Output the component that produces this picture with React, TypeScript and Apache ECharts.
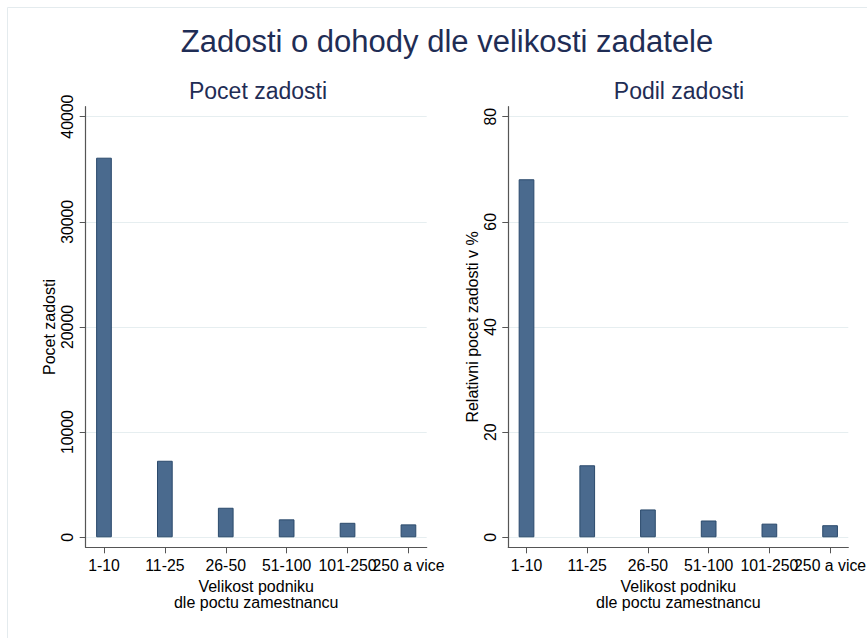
import React, { useEffect, useRef } from 'react';
import * as echarts from 'echarts';

const categories = ['1-10', '11-25', '26-50', '51-100', '101-250', '250 a vice'];
const countValues = [36100, 7280, 2810, 1710, 1380, 1230];
const shareValues = [68.1, 13.7, 5.3, 3.2, 2.6, 2.3];
const countTicks = [0, 10000, 20000, 30000, 40000];
const shareTicks = [0, 20, 40, 60, 80];

const mainTitle = 'Zadosti o dohody dle velikosti zadatele';
const leftTitle = 'Pocet zadosti';
const rightTitle = 'Podil zadosti';
const leftYName = 'Pocet zadosti';
const rightYName = 'Relativni pocet zadosti v %';
const xName = 'Velikost podniku\ndle poctu zamestnancu';

const FONT = '"Liberation Sans", Arial, sans-serif';
const NAVY = '#1f2d55';
const AXIS = '#555555';
const GRIDLINE = '#e6eef0';
const BAR = '#4a6a8e';
const BAR_EDGE = '#2b4a6c';

const catIdx = categories.map((_, i) => i);
const mainIdx = catIdx.slice(0, catIdx.length - 1);
const lastIdx = catIdx.slice(catIdx.length - 1);

const labelStyle = {
  margin: 10,
  color: '#000',
  fontSize: 15.8,
  fontFamily: FONT,
  hideOverlap: false,
  showMinLabel: true,
  showMaxLabel: true,
};

function xAxis(gridIndex: number) {
  return {
    type: 'value',
    gridIndex,
    min: -0.3,
    max: 5.3,
    axisLine: { show: true, onZero: false, lineStyle: { color: AXIS, width: 1.2 } },
    axisTick: { show: true, length: 6, customValues: catIdx, lineStyle: { color: AXIS, width: 1 } },
    axisLabel: {
      ...labelStyle,
      customValues: mainIdx,
      formatter: (v: number) => categories[Math.round(v)] ?? '',
    },
    splitLine: { show: false },
    name: xName,
    nameLocation: 'middle',
    nameGap: 27,
    nameTextStyle: { color: '#000', fontSize: 16, fontFamily: FONT, lineHeight: 16 },
  };
}

// second axis in the same grid, only to carry the last category label (the
// reference lets it overlap its neighbour)
function xAxisLast(gridIndex: number) {
  return {
    type: 'value',
    gridIndex,
    min: -0.3,
    max: 5.3,
    position: 'bottom',
    axisLine: { show: false, onZero: false },
    axisTick: { show: false },
    axisLabel: {
      ...labelStyle,
      customValues: lastIdx,
      formatter: (v: number) => categories[Math.round(v)] ?? '',
    },
    splitLine: { show: false },
  };
}

function yAxis(gridIndex: number, min: number, max: number, ticks: number[], name: string, nameGap: number) {
  return {
    type: 'value',
    gridIndex,
    min,
    max,
    axisLine: { show: true, onZero: false, lineStyle: { color: AXIS, width: 1.2 } },
    axisTick: { show: true, length: 6, customValues: ticks, lineStyle: { color: AXIS, width: 1 } },
    axisLabel: {
      customValues: ticks,
      formatter: (v: number) => String(v),
      rotate: 90,
      margin: 10,
      color: '#000',
      fontSize: 15.8,
      fontFamily: FONT,
      showMinLabel: true,
      showMaxLabel: true,
    },
    splitLine: { show: true, lineStyle: { color: GRIDLINE, width: 1 } },
    name,
    nameLocation: 'middle',
    nameGap,
    nameTextStyle: { color: '#000', fontSize: 16, fontFamily: FONT },
  };
}

const option = {
  animation: false,
  backgroundColor: '#ffffff',
  textStyle: { fontFamily: FONT },
  grid: [
    { left: 85.7, top: 106.7, width: 341, height: 440.6, outerBoundsMode: 'none', containLabel: false },
    { left: 508.3, top: 106.7, width: 340, height: 440.6, outerBoundsMode: 'none', containLabel: false },
  ],
  xAxis: [xAxis(0), xAxis(1), xAxisLast(0), xAxisLast(1)],
  yAxis: [
    yAxis(0, -950, 40950, countTicks, leftYName, 28),
    yAxis(1, -1.9, 81.9, shareTicks, rightYName, 28),
  ],
  series: [
    {
      type: 'bar',
      xAxisIndex: 0,
      yAxisIndex: 0,
      data: countValues.map((v, i) => [i, v]),
      barWidth: 15.7,
      itemStyle: { color: BAR, borderColor: BAR_EDGE, borderWidth: 1 },
    },
    {
      type: 'bar',
      xAxisIndex: 1,
      yAxisIndex: 1,
      data: shareValues.map((v, i) => [i, v]),
      barWidth: 15.7,
      itemStyle: { color: BAR, borderColor: BAR_EDGE, borderWidth: 1 },
    },
  ],
  graphic: [
    {
      type: 'rect',
      silent: true,
      shape: { x: 7.5, y: 7.5, width: 900, height: 700 },
      style: { fill: 'none', stroke: '#e4ebee', lineWidth: 1 },
      z: -10,
    },
    {
      type: 'text',
      x: 447,
      y: 41,
      style: { text: mainTitle, fill: NAVY, font: `31px ${FONT}`, textAlign: 'center', textVerticalAlign: 'middle' },
    },
    {
      type: 'text',
      x: 258,
      y: 91,
      style: { text: leftTitle, fill: NAVY, font: `23px ${FONT}`, textAlign: 'center', textVerticalAlign: 'middle' },
    },
    {
      type: 'text',
      x: 679,
      y: 91,
      style: { text: rightTitle, fill: NAVY, font: `23px ${FONT}`, textAlign: 'center', textVerticalAlign: 'middle' },
    },
  ],
};

export default function App() {
  const ref = useRef<HTMLDivElement>(null);
  useEffect(() => {
    const chart = echarts.init(ref.current!, null, { renderer: 'svg' });
    chart.setOption(option as any);
    return () => chart.dispose();
  }, []);
  return (
    <div
      ref={ref}
      style={{ position: 'fixed', left: 0, top: 0, width: 867, height: 638, background: '#fff' }}
    />
  );
}
